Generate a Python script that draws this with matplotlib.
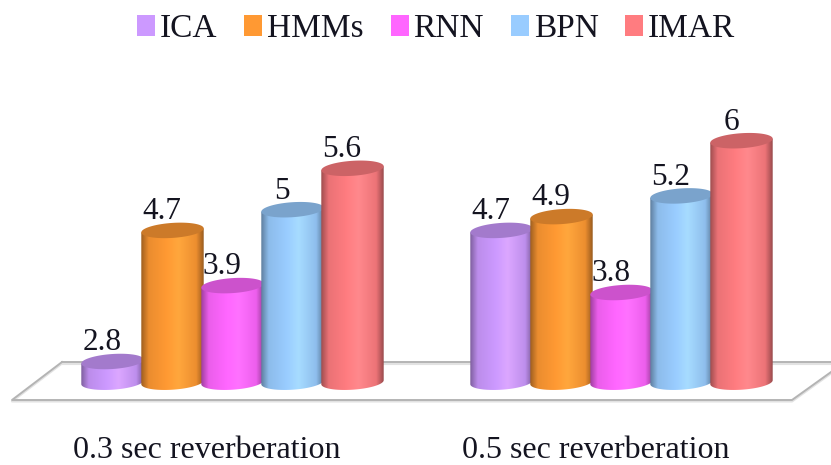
import numpy as np
import matplotlib
matplotlib.use("Agg")
import matplotlib.pyplot as plt
from matplotlib.colors import LinearSegmentedColormap, to_rgb
from matplotlib.lines import Line2D
from matplotlib.patches import Patch, Polygon

plt.rcParams['font.family'] = ['Liberation Serif', 'DejaVu Serif']

groups = ['0.3 sec reverberation', '0.5 sec reverberation']
methods = ['ICA', 'HMMs', 'RNN', 'BPN', 'IMAR']
ica = [2.8, 4.7]
hmms = [4.7, 4.9]
rnn = [3.9, 3.8]
bpn = [5.0, 5.2]
imar = [5.6, 6]
colors = ['#CC99FF', '#FF9933', '#FF66FF', '#99CCFF', '#FF7C80']

W, H = 831, 465
BASE = 2.5
TEXT = '#141420'

fig = plt.figure(figsize=(W / 100, H / 100), dpi=100)
ax = fig.add_axes([0, 0, 1, 1], facecolor='none')
ax.axis('off')

# floor of the 3d chart, in figure fractions
def floor_line(xs, ys, color, lw):
    fig.add_artist(Line2D(np.array(xs) / W, 1 - np.array(ys) / H,
                          color=color, lw=lw, zorder=-1))

for dy, col, lw in [(1.5, '#e2e2e2', 1.5), (0, '#b4b4b4', 1.4)]:
    floor_line([62, 12, 792, 845], [362 + dy, 400 + dy, 400 + dy, 362 + dy], col, lw)
    floor_line([62, 831], [362 + dy, 362 + dy], col, lw)

rx = 0.52
ry = 7.5 / 69
tilt = 2.0 / 69  # rise of the ellipse from left edge to right edge
t = np.linspace(0, 2 * np.pi, 120)


def ellipse(xc, yc):
    ex = xc + rx * np.cos(t)
    ey = yc + ry * np.sin(t) + tilt * np.cos(t)
    return ex, ey


def cylinder(xc, value, color, z):
    rgb = np.array(to_rgb(color))
    shades = [rgb * 0.62, rgb * 0.92, rgb, np.minimum(rgb * 1.04 + 0.03, 1), rgb * 0.93, rgb * 0.6]
    cmap = LinearSegmentedColormap.from_list('cyl', list(zip([0, 0.12, 0.4, 0.6, 0.88, 1], shades)))

    # side of the cylinder: lower half of the base ellipse, then up to the top
    low = np.linspace(np.pi, 2 * np.pi, 60)
    bx = xc + rx * np.cos(low)
    by = BASE + ry * np.sin(low) + tilt * np.cos(low)
    xs = np.r_[bx, xc + rx, xc - rx]
    ys = np.r_[by, value + tilt, value - tilt]
    body = Polygon(np.c_[xs, ys], closed=True, fc='none', ec='none', zorder=z)
    ax.add_patch(body)
    img = ax.imshow(np.linspace(0, 1, 128)[None, :], cmap=cmap, aspect='auto', zorder=z,
                    extent=[xc - rx, xc + rx, BASE - 2 * ry, value + 2 * ry], interpolation='bilinear')
    img.set_clip_path(body)

    ex, ey = ellipse(xc, value)
    ax.fill(ex, ey, color=rgb * 0.8, lw=0, zorder=z + 0.1)


series = [ica, hmms, rnn, bpn, imar]
group_x = [0, 389 / 60]
for g, gx in enumerate(group_x):
    for i, vals in enumerate(series):
        x = gx + i
        cylinder(x, vals[g], colors[i], 3 + g * 10 + i)
        # labels sit behind the bars, a neighbouring bar may cover part of them
        ax.annotate(f'{vals[g]:g}', (x, vals[g]), xytext=(-7.6, 3), textcoords='offset points',
                    ha='center', va='bottom', fontsize=22.5, color=TEXT, zorder=1)
    ax.annotate(groups[g], (gx + 2, BASE), xytext=(-18.7, -49), textcoords='offset points',
                ha='center', va='center', fontsize=23, color=TEXT, zorder=1)

ax.set_xlim(-112.5 / 60, (W - 112.5) / 60)
ax.set_ylim(3.8 - 172.5 / 69, 3.8 + 292.5 / 69)

handles = [Patch(facecolor=c, edgecolor='none') for c in colors]
ax.legend(handles, methods, ncols=5, loc='upper center', bbox_to_anchor=(0.525, 1.035), frameon=False,
          fontsize=24, handlelength=0.54, handleheight=0.6, handletextpad=0.15, columnspacing=0.8,
          labelcolor=TEXT)

fig.savefig('out.png', dpi=100)
